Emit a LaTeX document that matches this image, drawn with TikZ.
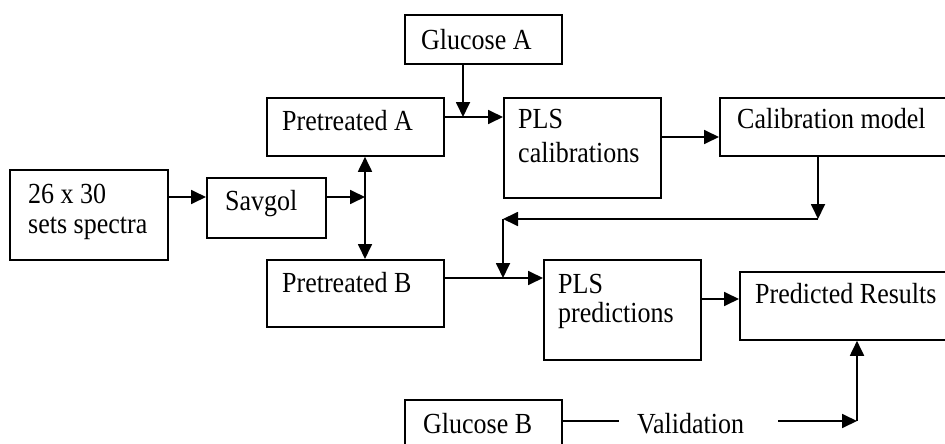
\documentclass[tikz,border=0pt]{standalone}
\usepackage{fontspec}
\setmainfont{Liberation Serif}
\usetikzlibrary{arrows.meta,calc}
\newcommand{\tall}[1]{\scalebox{1}[1.12]{#1}}
\begin{document}
\begin{tikzpicture}[x=1pt,y=-1pt,
  box/.style={draw,line width=1.8pt,rectangle,anchor=north west,inner sep=0pt},
  lbl/.style={anchor=base west,inner sep=0pt,font=\fontsize{26}{30}\selectfont},
  arr/.style={line width=1.8pt,-{Triangle[length=15pt,width=14pt]}},
  arrboth/.style={line width=1.8pt,{Triangle[length=15pt,width=14pt]}-{Triangle[length=15pt,width=14pt]}},
  ln/.style={line width=1.8pt}]
\useasboundingbox (0,0) rectangle (945,444);
\clip (0,0) rectangle (945,444);
% boxes
\node[box,minimum width=158pt,minimum height=90pt] (spectra) at (9,169) {};
\node[box,minimum width=119pt,minimum height=60pt] (savgol) at (206,177) {};
\node[box,minimum width=177pt,minimum height=58pt] (preA) at (266,97) {};
\node[box,minimum width=157pt,minimum height=49pt] (gluA) at (404,14) {};
\node[box,minimum width=177pt,minimum height=67pt] (preB) at (266,259) {};
\node[box,minimum width=157pt,minimum height=100pt] (plsc) at (503,97) {};
\node[box,minimum width=260pt,minimum height=58pt] (calm) at (719,97) {};
\node[box,minimum width=157pt,minimum height=100pt] (plsp) at (543,259) {};
\node[box,minimum width=240pt,minimum height=68pt] (predr) at (739,271) {};
\node[box,minimum width=157pt,minimum height=70pt] (gluB) at (404,399) {};
% labels
\node[lbl] (t1) at (28,203) {\tall{26 x 30}};
\node[lbl] (t2) at (28,233) {\tall{sets spectra}};
\node[lbl] (t3) at (225,210) {\tall{Savgol}};
\node[lbl] (t4) at (282,130) {\tall{Pretreated A}};
\node[lbl] (t5) at (421,49) {\tall{Glucose A}};
\node[lbl] (t6) at (518,128) {\tall{PLS}};
\node[lbl] (t7) at (518,162) {\tall{calibrations}};
\node[lbl] (t8) at (737,128) {\tall{Calibration model}};
\node[lbl] (t9) at (282,292) {\tall{Pretreated B}};
\node[lbl] (t10) at (558,293) {\tall{PLS}};
\node[lbl] (t11) at (558,322) {\tall{predictions}};
\node[lbl] (t12) at (755,303) {\tall{Predicted Results}};
\node[lbl] (t13) at (423,433) {\tall{Glucose B}};
\node[lbl] (val) at (637,433) {\tall{Validation}};
% junction coordinates
\coordinate (j1) at (365,197);
\coordinate (j2) at (463,117);
\coordinate (j3) at (818,219);
\coordinate (j4) at (503,219);
\coordinate (j5) at (503,278);
\coordinate (j6) at (857,421);
\coordinate (r1) at (0,137);
\coordinate (r2) at (0,299);
\coordinate (v1) at (619,421);
\coordinate (v2) at (778,421);
% connectors
\draw[arr] (spectra.east |- j1) -- (savgol.west |- j1);
\draw[arr] (savgol.east |- j1) -- (j1);
\draw[arrboth] (preA.south -| j1) -- (preB.north -| j1);
\draw[arr] (preA.east |- j2) -- (plsc.west |- j2);
\draw[arr] (gluA.south -| j2) -- (j2);
\draw[arr] (plsc.east |- r1) -- (calm.west |- r1);
\draw[arr] (calm.south -| j3) -- (j3);
\draw[arr] (j3) -- (j4);
\draw[arr] (j4) -- (j5);
\draw[arr] (preB.east |- j5) -- (plsp.west |- j5);
\draw[arr] (plsp.east |- r2) -- (predr.west |- r2);
\draw[ln] (gluB.east |- v1) -- (v1);
\draw[arr] (v2) -- (j6);
\draw[arr] (j6) -- (predr.south -| j6);
\end{tikzpicture}
\end{document}
